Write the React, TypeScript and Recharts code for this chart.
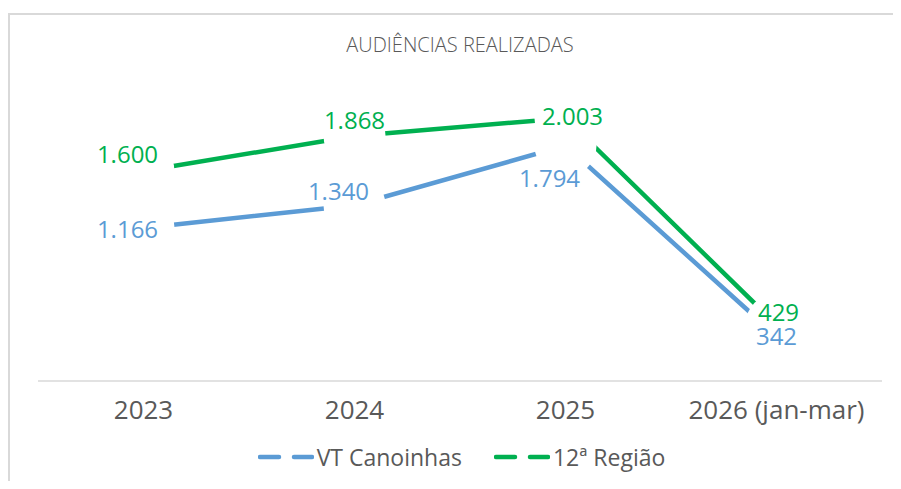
import { LineChart, Line, XAxis, YAxis, Legend, LabelList } from "recharts";

const categories = ["2023", "2024", "2025", "2026 (jan-mar)"];
const vtCanoinhas = [1166, 1340, 1794, 342];
const regiao12 = [1600, 1868, 2003, 429];
const seriesNames = ["VT Canoinhas", "12ª Região"];

const BLUE = "#5B9BD5";
const GREEN = "#00B050";
const GRAY = "#595959";
const FONT = "'Open Sans', sans-serif";

// label offsets (dx, dy) from each point, as in the original layout
const blueOffsets = [[-16, 0], [-16, -15], [-16, 32], [0, -1]];
const greenOffsets = [[-16, -18], [0, -16], [7, -3], [2, -13]];

const data = categories.map((name, i) => ({ name, vt: vtCanoinhas[i], reg: regiao12[i] }));

const fmt = (v: number) => String(v).replace(/\B(?=(\d{3})+(?!\d))/g, ".");

function makeLabel(color: string, offsets: number[][]) {
  return (props: any) => {
    const { x, y, value, index } = props;
    const [dx, dy] = offsets[index] || [0, 0];
    return (
      <text
        x={x + dx}
        y={y + dy}
        textAnchor="middle"
        dominantBaseline="central"
        fill={color}
        fontSize={24}
        fontFamily={FONT}
      >
        {fmt(value)}
      </text>
    );
  };
}

function LegendContent({ payload }: any) {
  const items = [...(payload || [])].sort(
    (a: any, b: any) => seriesNames.indexOf(a.value) - seriesNames.indexOf(b.value)
  );
  return (
    <div style={{ display: "flex", justifyContent: "center", alignItems: "center", height: 30, paddingLeft: 3 }}>
      {items.map((p: any, i: number) => (
        <div key={i} style={{ display: "flex", alignItems: "center", marginLeft: i ? 32 : 0 }}>
          <svg width={56} height={8}>
            <line x1={2} y1={4} x2={54} y2={4} stroke={p.color} strokeWidth={4.5} strokeDasharray="19 15" strokeLinecap="round" />
          </svg>
          <span style={{ fontFamily: FONT, fontSize: 23, color: GRAY, marginLeft: 3 }}>{p.value}</span>
        </div>
      ))}
    </div>
  );
}

export default function App() {
  return (
    <div style={{ position: "relative", width: 885, height: 473 }}>
      <div
        style={{
          position: "absolute",
          left: 0,
          top: 5,
          right: 0,
          bottom: 0,
          borderTop: "2px solid #d9d9d9",
          borderLeft: "2px solid #d9d9d9",
        }}
      />
      <div
        style={{
          position: "absolute",
          left: 30,
          width: 844,
          top: 23,
          textAlign: "center",
          fontFamily: FONT,
          fontSize: 20,
          fontWeight: 300,
          color: GRAY,
        }}
      >
        AUDIÊNCIAS REALIZADAS
      </div>
      <LineChart width={885} height={473} data={data} margin={{ top: 45, right: 11, left: 30, bottom: 9 }}>
        <XAxis
          dataKey="name"
          height={61}
          padding={{ left: 105.5, right: 105.5 }}
          tickLine={false}
          tickMargin={14}
          stroke="#d9d9d9"
          strokeWidth={1.5}
          tick={{ fill: GRAY, fontSize: 26, fontFamily: FONT }}
        />
        <YAxis hide domain={[0, 2500]} />
        <Legend verticalAlign="bottom" height={30} content={<LegendContent />} />
        <Line
          dataKey="vt"
          name={seriesNames[0]}
          stroke={BLUE}
          strokeWidth={4.5}
          dot={{ r: 31, fill: "#fff", stroke: "none", strokeWidth: 0 }}
          activeDot={false}
          isAnimationActive={false}
        >
          <LabelList dataKey="vt" content={makeLabel(BLUE, blueOffsets)} />
        </Line>
        <Line
          dataKey="reg"
          name={seriesNames[1]}
          stroke={GREEN}
          strokeWidth={4.5}
          dot={{ r: 31, fill: "#fff", stroke: "none", strokeWidth: 0 }}
          activeDot={false}
          isAnimationActive={false}
        >
          <LabelList dataKey="reg" content={makeLabel(GREEN, greenOffsets)} />
        </Line>
      </LineChart>
    </div>
  );
}
